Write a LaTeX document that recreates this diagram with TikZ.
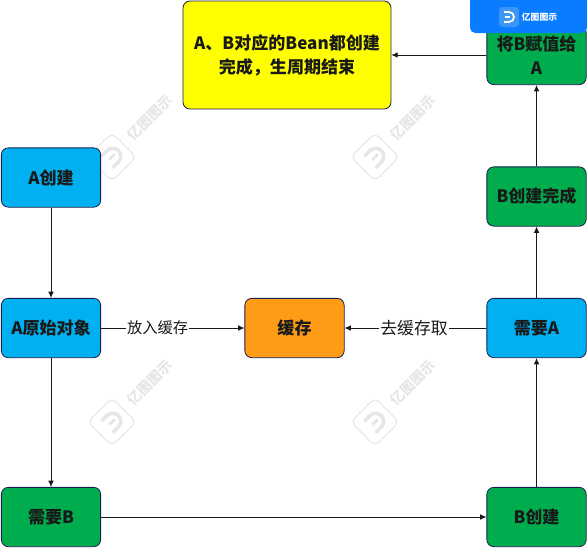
\documentclass[tikz,border=0pt]{standalone}
\usepackage{fontspec}
\setmainfont{Noto Sans CJK SC}
\usepackage{xcolor}
\usetikzlibrary{arrows.meta,positioning,calc}
\definecolor{boxyellow}{HTML}{FFFF00}
\definecolor{boxblue}{HTML}{00B0F0}
\definecolor{boxgreen}{HTML}{00AD4E}
\definecolor{boxorange}{HTML}{FF9C17}
\definecolor{boxline}{HTML}{1B1F4B}
\definecolor{bannerblue}{HTML}{0A7CFF}
\definecolor{logoblue}{HTML}{3D96F5}
\definecolor{markgray}{HTML}{E6E6E6}
\tikzset{
  stepbox/.style={draw=boxline,rounded corners=2.3mm*0.6,minimum width=2cm-0.4pt,minimum height=1.2cm-0.4pt,
    align=center,font=\fontsize{9.7}{13.6}\selectfont\bfseries,text=black!90,line width=0.45pt},
  link/.style={draw=black!90,line width=0.45pt,-{Latex[length=3.6pt,width=3.2pt]}},
  linklabel/.style={fill=white,inner sep=0.6pt,font=\fontsize{8.7}{10}\selectfont,text=black!90},
}
\begin{document}
\begin{tikzpicture}[x=0.02cm,y=-0.02cm]
  \useasboundingbox (0,0) rectangle (587,548);
  % watermark
  \foreach \wx/\wy/\wn in {112/157/a,375/157/b,112/422/c,375/422/d}{
    \draw[markgray,line width=0.6pt,rounded corners=3pt,rotate around={45:(\wx,\wy)}] (\wx-17,\wy-17) rectangle (\wx+17,\wy+17);
    \draw[markgray,line width=2pt,rotate around={45:(\wx,\wy)}] (\wx-7,\wy-8) -- (\wx+1,\wy-8) arc[start angle=-90,end angle=90,radius=8] -- (\wx-7,\wy+8);
    \draw[markgray,line width=1.6pt,rotate around={45:(\wx,\wy)}] (\wx-4,\wy) -- (\wx+4,\wy);
    \node (mark\wn) [rotate=45,text=markgray,font=\fontsize{8}{10}\selectfont\bfseries,inner sep=0pt] at (\wx+38,\wy-39) {亿图图示};
  }
  % boxes
  \node (done) [stepbox,fill=boxyellow,minimum width=4.16cm,minimum height=2.16cm] at (287,55) {\raisebox{-1.1pt}{A、B对应的Bean都创建}\\\raisebox{-1.1pt}{完成，生周期结束}};
  \node (acreate) [stepbox,fill=boxblue] at (51,177.5) {A创建};
  \node (araw) [stepbox,fill=boxblue] at (51,328) {A原始对象};
  \node (cache) [stepbox,fill=boxorange] at (294.5,328) {缓存};
  \node (needa) [stepbox,fill=boxblue] at (536.5,328) {需要A};
  \node (bdone) [stepbox,fill=boxgreen] at (536.5,196.5) {B创建完成};
  \node (assign) [stepbox,fill=boxgreen] at (536.5,55) {将B赋值给\\A};
  \node (needb) [stepbox,fill=boxgreen] at (51,517) {需要B};
  \node (bcreate) [stepbox,fill=boxgreen] at (536.5,517) {B创建};
  % links
  \draw[link] (acreate) -- (araw);
  \draw[link] (araw) -- (needb);
  \draw[link] (needb) -- (bcreate);
  \draw[link] (bcreate) -- (needa);
  \draw[link] (needa) -- (bdone);
  \draw[link] (bdone) -- (assign);
  \draw[link] (assign) -- (done);
  \draw[link] (araw) -- node (putlabel) [linklabel,pos=0.395] {放入缓存} (cache);
  \draw[link] (needa) -- node (getlabel) [linklabel,pos=0.51,font=\fontsize{9.6}{10}\selectfont] {去缓存取} (cache);
  % banner
  \fill[bannerblue,rounded corners=3pt] (470,-8) rectangle (587,33);
  \fill[logoblue,rounded corners=2pt] (499,7) rectangle (519,27);
  \draw[white,line width=1pt] (504,12) -- (509,12) arc[start angle=-90,end angle=90,radius=5] -- (504,22);
  \draw[white,line width=0.8pt] (505,17) -- (510,17);
  \node (bannertext) [text=white,font=\fontsize{5}{6}\selectfont\bfseries,inner sep=0pt] at (539.5,17.5) {亿图图示};
\end{tikzpicture}
\end{document}
